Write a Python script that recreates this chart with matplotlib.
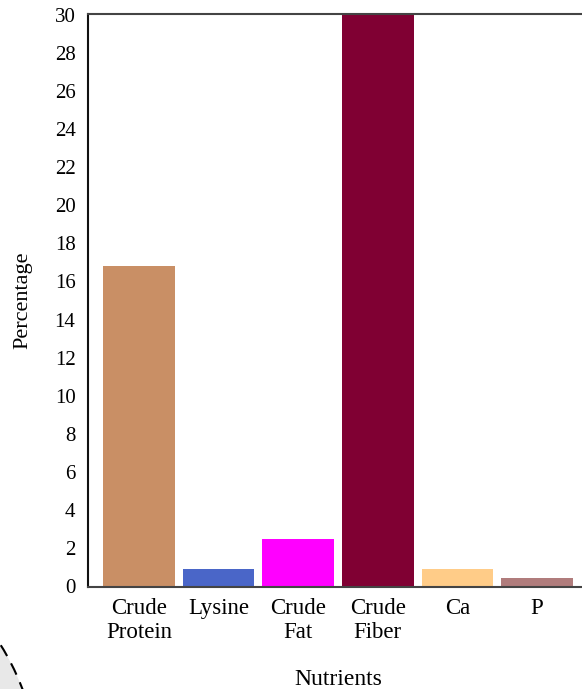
import matplotlib
matplotlib.use("Agg")
import matplotlib.pyplot as plt
from matplotlib.patches import Circle

categories = ["Crude\nProtein", "Lysine", "Crude\nFat", "Crude\nFiber", "Ca", "P"]
values = [16.8, 0.9, 2.45, 31.0, 0.9, 0.42]
colors = ["#C98F65", "#4A66C8", "#FF00FF", "#800033", "#FFCC88", "#B07C7C"]
yticks = list(range(0, 31, 2))

plt.rcParams['font.family'] = ['Liberation Serif', 'DejaVu Serif']

W, H = 582, 689
fig = plt.figure(figsize=(W / 100, H / 100), dpi=100)
left, right, top, bottom = 88, 588, 14, 587
ax = fig.add_axes([left / W, 1 - bottom / H, (right - left) / W, (bottom - top) / H])

x = list(range(len(categories)))
ax.bar(x, values, width=0.9, color=colors)
ax.set_xlim(-0.64, 5.64)
ax.set_ylim(-0.05, 30.05)
ax.set_yticks(yticks)
ax.set_xticks(x)
ax.set_xticklabels(categories, fontsize=16.5, linespacing=1.15)
ax.tick_params(axis='y', labelsize=15, length=0, pad=9)
ax.tick_params(axis='x', length=0, pad=8)
ax.set_ylabel("Percentage", fontsize=16, labelpad=16)
ax.set_xlabel("Nutrients", fontsize=17, labelpad=19)
for s in ['top', 'left', 'bottom', 'right']:
    ax.spines[s].set_color('#444444')
    ax.spines[s].set_linewidth(1.5)
ax.spines['left'].set_color('#111111')

circ = Circle((-160 / W, 1 - 786 / H), 200 / W, transform=fig.transFigure,
              facecolor='#e8e8e8', edgecolor='black', linestyle=(0, (6, 4)),
              linewidth=1.5, clip_on=False)
fig.patches.append(circ)

fig.savefig("out.png", dpi=100)
